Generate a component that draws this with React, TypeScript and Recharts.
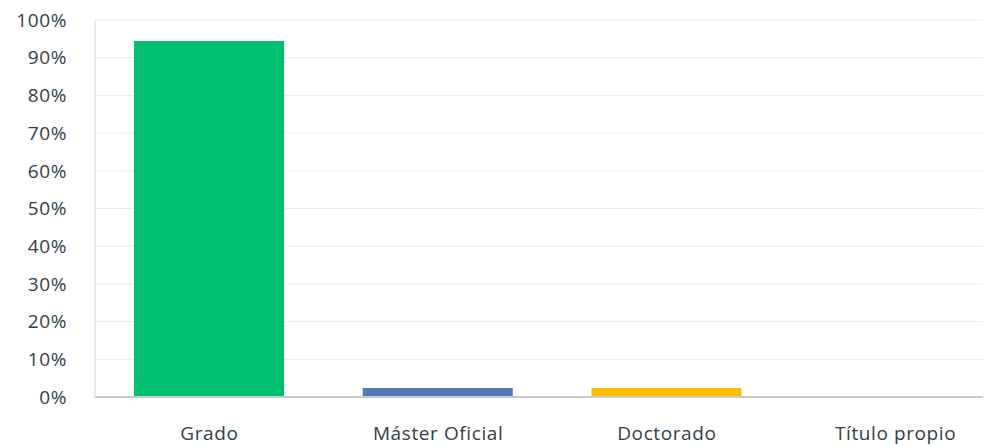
import { BarChart, Bar, XAxis, YAxis, CartesianGrid, Cell } from 'recharts'

const categories = ['Grado', 'Máster Oficial', 'Doctorado', 'Título propio']
const shares = [0.944, 0.024, 0.024, 0]
const barColors = ['#00BF6F', '#507CB6', '#F9BE00', '#6BC8CD']
const yTicks = [0, 0.1, 0.2, 0.3, 0.4, 0.5, 0.6, 0.7, 0.8, 0.9, 1]

const data = categories.map((name, i) => ({ name, value: shares[i] }))

const tickStyle = { fontSize: 19, fill: '#333e48', fontFamily: '"Open Sans", sans-serif', letterSpacing: 0.6 }

export default function App() {
  return (
    <div style={{ width: 983, height: 438, overflow: 'hidden' }}>
      <BarChart width={1002} height={438} data={data} margin={{ top: 12, right: 0, bottom: 0, left: 0 }}>
        <CartesianGrid stroke="#EBEBEB" vertical={false} />
        <XAxis
          dataKey="name"
          height={49}
          tick={{ ...tickStyle, dy: 22 }}
          tickLine={false}
          axisLine={{ stroke: '#CCCCCC', strokeWidth: 2 }}
          interval={0}
        />
        <YAxis
          width={87}
          domain={[0, 1]}
          ticks={yTicks}
          tickFormatter={(v: number) => `${Math.round(v * 100)}%`}
          tick={{ ...tickStyle, dx: -20 }}
          tickLine={false}
          axisLine={{ stroke: '#D6D6D6' }}
          interval={0}
        />
        <Bar dataKey="value" barSize={150} isAnimationActive={false}>
          {data.map((d, i) => (
            <Cell key={d.name} fill={barColors[i]} />
          ))}
        </Bar>
      </BarChart>
    </div>
  )
}
